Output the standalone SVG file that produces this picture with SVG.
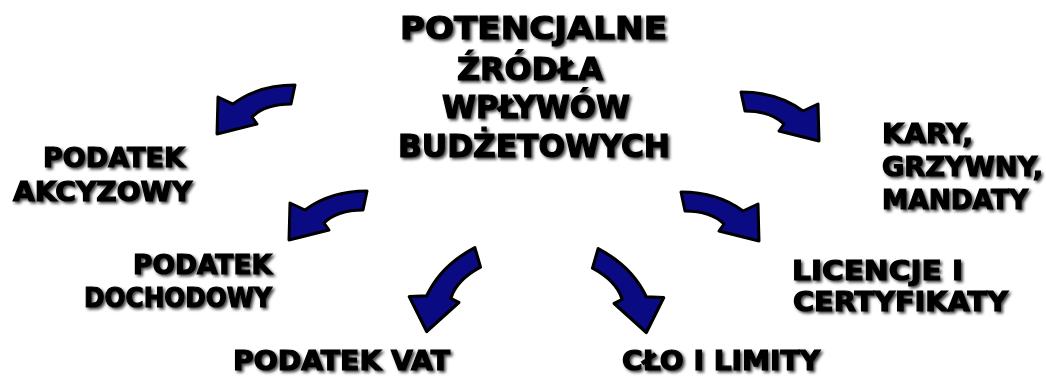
<svg xmlns="http://www.w3.org/2000/svg" width="1046" height="376" viewBox="0 0 1046 376">
<style>
.t{font-family:"DejaVu Sans","Liberation Sans",sans-serif;font-weight:bold;fill:#000;stroke:#000;stroke-width:1.2;filter:url(#sh)}
.title{font-size:32px}
.lbl{font-size:27px}
.arr{fill:#0a0a82;stroke:#000;stroke-width:3;stroke-linejoin:round}
</style>
<defs>
<filter id="sh" x="-10%" y="-30%" width="120%" height="170%">
<feGaussianBlur in="SourceAlpha" stdDeviation="1.6" result="b"/>
<feOffset in="b" dx="2" dy="2" result="o"/>
<feComponentTransfer in="o" result="s"><feFuncA type="linear" slope="0.75"/></feComponentTransfer>
<feMerge><feMergeNode in="s"/><feMergeNode in="SourceGraphic"/></feMerge>
</filter>
<path id="arrow" d="M39,-25 L35,-6 C18,-6 4,-1 -4,7 L1,14 L-39,24 L-38,-13 L-23,-6 C-7,-18 13,-25 39,-25 Z"/>
</defs>
<rect width="1046" height="376" fill="#fff"/>
<g id="connectors">
<use href="#arrow" class="arr" transform="translate(256,110)"/>
<use href="#arrow" class="arr" transform="translate(780,117) scale(-1,1)"/>
<use href="#arrow" class="arr" transform="translate(328,216)"/>
<use href="#arrow" class="arr" transform="translate(720,217) scale(-1,1)"/>
<use href="#arrow" class="arr" transform="translate(451,290) rotate(-28) scale(1.05)"/>
<use href="#arrow" class="arr" transform="translate(622,291) scale(-1,1) rotate(-28) scale(1.05)"/>
</g>
<g id="title">
<text class="t title" x="400" y="39" textLength="267" lengthAdjust="spacingAndGlyphs">POTENCJALNE</text>
<text class="t title" x="457" y="80" textLength="146" lengthAdjust="spacingAndGlyphs">ŹRÓDŁA</text>
<text class="t title" x="442" y="118" textLength="188" lengthAdjust="spacingAndGlyphs">WPŁYWÓW</text>
<text class="t title" x="398" y="157" textLength="272" lengthAdjust="spacingAndGlyphs">BUDŻETOWYCH</text>
</g>
<g id="akcyzowy">
<text class="t lbl" x="43" y="167" textLength="142" lengthAdjust="spacingAndGlyphs">PODATEK</text>
<text class="t lbl" x="13" y="201" textLength="179" lengthAdjust="spacingAndGlyphs">AKCYZOWY</text>
</g>
<g id="kary">
<text class="t lbl" x="882" y="143" textLength="91" lengthAdjust="spacingAndGlyphs">KARY,</text>
<text class="t lbl" x="882" y="176" textLength="161" lengthAdjust="spacingAndGlyphs">GRZYWNY,</text>
<text class="t lbl" x="882" y="209" textLength="146" lengthAdjust="spacingAndGlyphs">MANDATY</text>
</g>
<g id="dochodowy">
<text class="t lbl" x="133" y="274" textLength="139" lengthAdjust="spacingAndGlyphs">PODATEK</text>
<text class="t lbl" x="84" y="307" textLength="188" lengthAdjust="spacingAndGlyphs">DOCHODOWY</text>
</g>
<g id="licencje">
<text class="t lbl" x="792" y="280" textLength="171" lengthAdjust="spacingAndGlyphs">LICENCJE I</text>
<text class="t lbl" x="793" y="311" textLength="215" lengthAdjust="spacingAndGlyphs">CERTYFIKATY</text>
</g>
<g id="vat">
<text class="t lbl" x="233" y="370" textLength="217" lengthAdjust="spacingAndGlyphs">PODATEK VAT</text>
</g>
<g id="clo">
<text class="t lbl" x="622" y="370" textLength="198" lengthAdjust="spacingAndGlyphs">CŁO I LIMITY</text>
</g>
</svg>
